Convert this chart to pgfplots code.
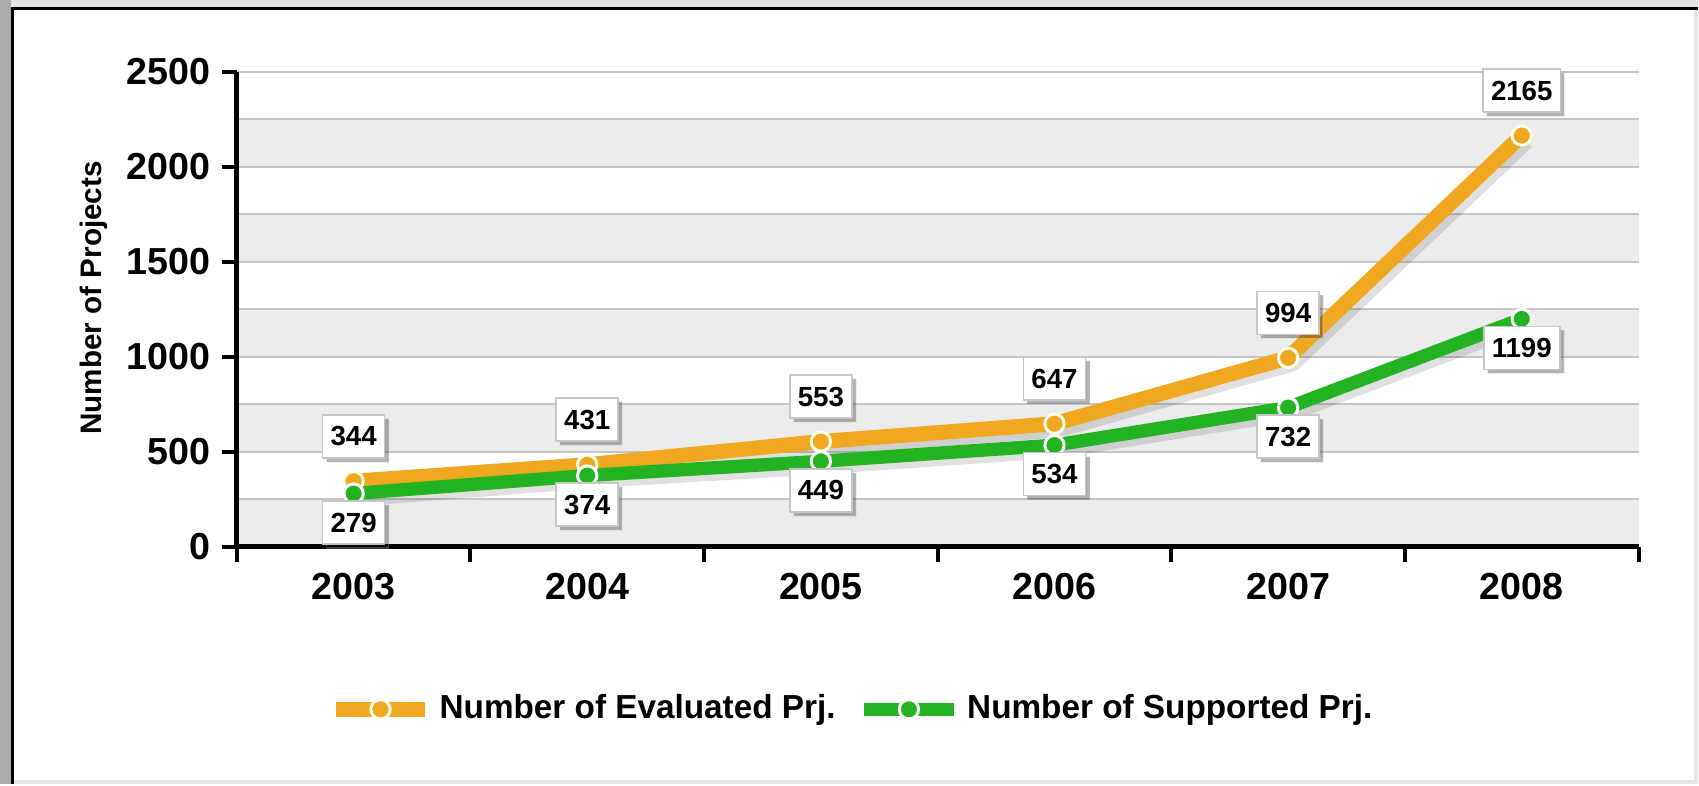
\documentclass[border=0pt]{standalone}
\usepackage{pgfplots}
\pgfplotsset{compat=1.18}
\usepackage{fontspec}
\setmainfont{Liberation Sans}
\usetikzlibrary{shadows}

\definecolor{evalor}{RGB}{240,168,32}
\definecolor{suppgr}{RGB}{34,178,34}
\definecolor{bandgray}{RGB}{236,236,236}
\definecolor{gridgray}{RGB}{196,196,196}
\definecolor{framegray}{RGB}{170,170,170}

% number of projects per year (x: 0 = 2003)
\pgfplotstableread{
x eval supp
0 344 279
1 431 374
2 553 449
3 647 534
4 994 732
5 2165 1199
}\prj

\tikzset{lbl/.style={anchor=center, fill=white, draw=gray!45, line width=0.5pt,
  inner xsep=2.4pt, inner ysep=0pt, minimum height=12.9pt, text=black,
  font=\fontsize{8.3}{9}\selectfont\bfseries,
  drop shadow={shadow xshift=1.2pt, shadow yshift=-1.2pt, opacity=0.3, fill=black}}}

\begin{document}
\begin{tikzpicture}
% frame (1 px of the reference = 0.3pt)
\fill[gray!20] (0,0) rectangle (509.7pt,-235.5pt);
\fill[framegray] (0,0) rectangle (3.3pt,-235.5pt);
\fill[white] (4.2pt,-3pt) rectangle (508.5pt,-234.3pt);
\draw[black, line width=0.9pt] (3.75pt,-235.5pt) -- (3.75pt,-2.55pt) -- (509.7pt,-2.55pt);

\begin{axis}[
  at={(71.1pt,-164.1pt)}, anchor=south west,
  scale only axis, width=420.9pt, height=142.5pt,
  xmin=-0.5, xmax=5.5, ymin=0, ymax=2500,
  clip=false, axis on top,
  axis x line*=bottom, axis y line*=left,
  axis line style={line width=1.5pt},
  tick align=outside,
  xtick={0,...,5}, xticklabels={2003,2004,2005,2006,2007,2008},
  minor xtick={-0.5,0.5,...,5.5},
  major x tick style={draw=none},
  ytick={0,500,...,2500},
  major tick length=4.5pt, minor tick length=4.5pt,
  tick style={black, line width=1.2pt},
  ticklabel style={font=\fontsize{11.3}{13}\selectfont\bfseries},
  xticklabel style={yshift=0pt},
  scaled y ticks=false,
  /pgf/number format/1000 sep={},
  /pgf/number format/assume math mode=true,
  ylabel={Number of Projects},
  ylabel style={at={(axis description cs:-0.102,0.524)}, anchor=center,
    font=\fontsize{8.9}{10}\selectfont\bfseries},
  legend style={at={(axis description cs:0.440,-0.343)}, anchor=center,
    draw=none, fill=none, legend columns=2, inner sep=0pt,
    font=\fontsize{10}{12}\selectfont\bfseries,
    /tikz/every even column/.append style={column sep=4.5pt}},
  legend image code/.code={\draw[#1, mark repeat=2, mark phase=2]
    plot coordinates {(0pt,0pt) (13.5pt,0pt) (27pt,0pt)};},
]
% alternating bands and grid lines
\fill[bandgray] (axis cs:-0.5,0) rectangle (axis cs:5.5,250);
\fill[bandgray] (axis cs:-0.5,500) rectangle (axis cs:5.5,750);
\fill[bandgray] (axis cs:-0.5,1000) rectangle (axis cs:5.5,1250);
\fill[bandgray] (axis cs:-0.5,1500) rectangle (axis cs:5.5,1750);
\fill[bandgray] (axis cs:-0.5,2000) rectangle (axis cs:5.5,2250);
\draw[gridgray, line width=0.6pt]
  (axis cs:-0.5,250) -- (axis cs:5.5,250)   (axis cs:-0.5,500) -- (axis cs:5.5,500)
  (axis cs:-0.5,750) -- (axis cs:5.5,750)   (axis cs:-0.5,1000) -- (axis cs:5.5,1000)
  (axis cs:-0.5,1250) -- (axis cs:5.5,1250) (axis cs:-0.5,1500) -- (axis cs:5.5,1500)
  (axis cs:-0.5,1750) -- (axis cs:5.5,1750) (axis cs:-0.5,2000) -- (axis cs:5.5,2000)
  (axis cs:-0.5,2250) -- (axis cs:5.5,2250) (axis cs:-0.5,2500) -- (axis cs:5.5,2500);

% soft shadows under the lines
\addplot[forget plot, black, opacity=0.12, line width=4.5pt, line join=round,
  xshift=1.5pt, yshift=-1.8pt] table[x=x, y=eval]{\prj};
\addplot[forget plot, black, opacity=0.12, line width=4pt, line join=round,
  xshift=1.5pt, yshift=-1.8pt] table[x=x, y=supp]{\prj};

\addplot[evalor, line width=4.5pt, line join=round,
  mark=*, mark size=2.9pt, mark options={fill=evalor, draw=yellow!8!white, line width=0.9pt},
  point meta=y, nodes near coords,
  every node near coord/.append style={lbl, yshift=13.5pt}]
  table[x=x, y=eval]{\prj};
\addlegendentry{Number of Evaluated Prj.}

\addplot[suppgr, line width=4pt, line join=round,
  mark=*, mark size=2.9pt, mark options={fill=suppgr, draw=white, line width=0.9pt},
  point meta=y, nodes near coords,
  every node near coord/.append style={lbl, yshift=-8.7pt}]
  table[x=x, y=supp]{\prj};
\addlegendentry{Number of Supported Prj.}
\end{axis}
\end{tikzpicture}
\end{document}
